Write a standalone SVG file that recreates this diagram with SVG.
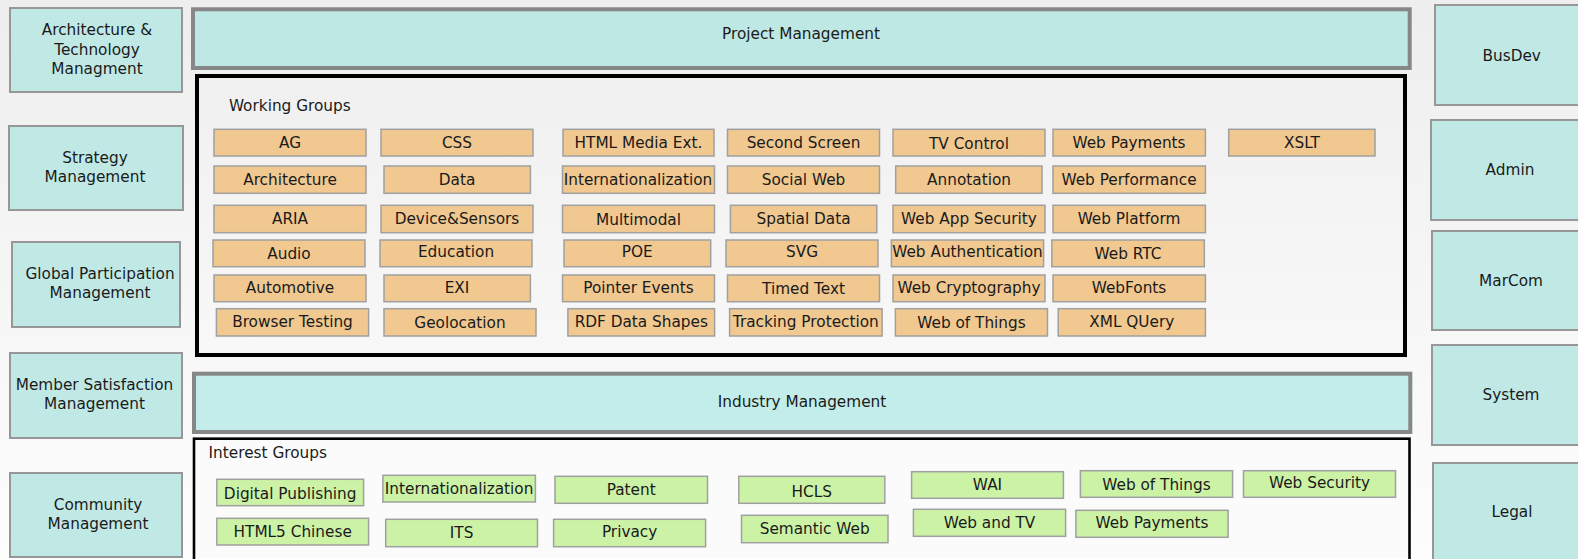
<svg xmlns="http://www.w3.org/2000/svg" width="1578" height="559" viewBox="0 0 1578 559">
<defs>
<linearGradient id="bg" x1="0" y1="0" x2="0" y2="1">
<stop offset="0" stop-color="#eeeeee"/>
<stop offset="1" stop-color="#fdfdfd"/>
</linearGradient>
<linearGradient id="wgbg" x1="0" y1="0" x2="0" y2="1">
<stop offset="0" stop-color="#f0f0f0"/>
<stop offset="1" stop-color="#f8f8f8"/>
</linearGradient>
<style>
text{font-family:"DejaVu Sans","Liberation Sans",sans-serif;font-size:15.3px;fill:#1a1a1a;text-anchor:middle}
.side{fill:#c0e9e6;stroke:#979797;stroke-width:2}
.bar{fill:#bee8e4;stroke:#878787;stroke-width:4}
.bar2{fill:#c2edea;stroke:#878787;stroke-width:4}
.wg{fill:#f0c890;stroke:#a0a0a0;stroke-width:1.5}
.ig{fill:#ccf2a6;stroke:#a0a0a0;stroke-width:1.5}
.lbl{text-anchor:start}
</style>
</defs>
<rect x="0" y="0" width="1578" height="559" fill="url(#bg)"/>

<g id="left-column">
<g id="arch"><rect class="side" x="10" y="8" width="172" height="84"/><text x="97" y="35">Architecture &amp;</text><text x="97" y="54.5">Technology</text><text x="97" y="73.5">Managment</text></g>
<g id="strategy"><rect class="side" x="9" y="126" width="174" height="84"/><text x="95" y="163">Strategy</text><text x="95" y="182">Management</text></g>
<g id="global"><rect class="side" x="12" y="242" width="168" height="85"/><text x="100" y="278.5">Global Participation</text><text x="100" y="298">Management</text></g>
<g id="member"><rect class="side" x="10" y="353" width="172" height="85"/><text x="94.5" y="389.5">Member Satisfaction</text><text x="94.5" y="409">Management</text></g>
<g id="community"><rect class="side" x="10" y="473" width="172" height="84"/><text x="98" y="509.5">Community</text><text x="98" y="529">Management</text></g>
</g>

<g id="right-column">
<g id="busdev"><rect class="side" x="1435" y="5" width="160" height="100"/><text x="1511.7" y="60.5">BusDev</text></g>
<g id="admin"><rect class="side" x="1431" y="120" width="164" height="100"/><text x="1510" y="175">Admin</text></g>
<g id="marcom"><rect class="side" x="1432" y="231" width="163" height="99"/><text x="1511" y="286">MarCom</text></g>
<g id="system"><rect class="side" x="1432" y="345" width="163" height="100"/><text x="1511" y="399.5">System</text></g>
<g id="legal"><rect class="side" x="1433" y="463" width="162" height="100"/><text x="1512" y="517">Legal</text></g>
</g>

<g id="project-management"><rect class="bar" x="193" y="9.3" width="1216.7" height="58.7"/><text x="801" y="38.5">Project Management</text></g>

<g id="working-groups">
<rect x="197" y="76" width="1208" height="279" fill="url(#wgbg)" stroke="#000" stroke-width="4"/>
<text class="lbl" x="228.9" y="110.5">Working Groups</text>
<g id="wg-r1">
<rect class="wg" x="214" y="129.3" width="152" height="26.7"/><text x="290" y="148">AG</text>
<rect class="wg" x="381" y="129.3" width="152" height="26.7"/><text x="457" y="148">CSS</text>
<rect class="wg" x="563" y="129.3" width="151" height="26.7"/><text x="638.5" y="148">HTML Media Ext.</text>
<rect class="wg" x="727.5" y="129.3" width="152" height="26.7"/><text x="803.5" y="148">Second Screen</text>
<rect class="wg" x="893" y="129.3" width="152" height="26.7"/><text x="969" y="149">TV Control</text>
<rect class="wg" x="1053" y="129.3" width="152.4" height="26.7"/><text x="1129" y="148">Web Payments</text>
<rect class="wg" x="1228.7" y="129.3" width="146.3" height="26.7"/><text x="1302" y="148">XSLT</text>
</g>
<g id="wg-r2">
<rect class="wg" x="214" y="166" width="152" height="27.3"/><text x="290" y="184.5">Architecture</text>
<rect class="wg" x="384" y="166" width="146.4" height="27.3"/><text x="457" y="184.5">Data</text>
<rect class="wg" x="562.5" y="166" width="152" height="27.3"/><text x="638" y="184.5">Internationalization</text>
<rect class="wg" x="727.5" y="166" width="152" height="27.3"/><text x="803.5" y="184.5">Social Web</text>
<rect class="wg" x="895.7" y="166" width="146.3" height="27.3"/><text x="969" y="184.5">Annotation</text>
<rect class="wg" x="1053" y="166" width="152.4" height="27.3"/><text x="1129" y="184.5">Web Performance</text>
</g>
<g id="wg-r3">
<rect class="wg" x="214" y="205.3" width="152" height="27.4"/><text x="290" y="224">ARIA</text>
<rect class="wg" x="381" y="205.3" width="152" height="27.4"/><text x="457" y="224">Device&amp;Sensors</text>
<rect class="wg" x="562.5" y="205.3" width="152" height="27.4"/><text x="638.5" y="225">Multimodal</text>
<rect class="wg" x="730.4" y="205.3" width="146.4" height="27.4"/><text x="803.5" y="224">Spatial Data</text>
<rect class="wg" x="893" y="205.3" width="152" height="27.4"/><text x="969" y="224">Web App Security</text>
<rect class="wg" x="1053" y="205.3" width="152.4" height="27.4"/><text x="1129" y="224">Web Platform</text>
</g>
<g id="wg-r4">
<rect class="wg" x="213" y="240" width="152" height="26.7"/><text x="289" y="258.5">Audio</text>
<rect class="wg" x="380" y="240" width="152" height="26.7"/><text x="456" y="257.2">Education</text>
<rect class="wg" x="564" y="240" width="146.7" height="26.7"/><text x="637.3" y="257.2">POE</text>
<rect class="wg" x="726" y="240" width="152" height="26.7"/><text x="802" y="257.2">SVG</text>
<rect class="wg" x="891.4" y="240" width="152.2" height="26.7"/><text x="967.5" y="257.2">Web Authentication</text>
<rect class="wg" x="1051.8" y="240" width="152.5" height="26.7"/><text x="1128" y="258.5">Web RTC</text>
</g>
<g id="wg-r5">
<rect class="wg" x="214" y="275" width="152" height="26.7"/><text x="290" y="292.9">Automotive</text>
<rect class="wg" x="384" y="275" width="146.4" height="26.7"/><text x="457" y="292.9">EXI</text>
<rect class="wg" x="562.5" y="275" width="152" height="26.7"/><text x="638.5" y="292.9">Pointer Events</text>
<rect class="wg" x="727.5" y="275" width="152" height="26.7"/><text x="803.5" y="294">Timed Text</text>
<rect class="wg" x="893" y="275" width="152" height="26.7"/><text x="969" y="292.9">Web Cryptography</text>
<rect class="wg" x="1053" y="275" width="152.4" height="26.7"/><text x="1129" y="292.9">WebFonts</text>
</g>
<g id="wg-r6">
<rect class="wg" x="216.4" y="308.7" width="152.2" height="27.3"/><text x="292.5" y="326.5">Browser Testing</text>
<rect class="wg" x="384" y="308.7" width="152" height="27.3"/><text x="460" y="327.9">Geolocation</text>
<rect class="wg" x="567.9" y="308.7" width="146.7" height="27.3"/><text x="641.3" y="326.5">RDF Data Shapes</text>
<rect class="wg" x="729.6" y="308.7" width="152.5" height="27.3"/><text x="805.8" y="326.5">Tracking Protection</text>
<rect class="wg" x="895.4" y="308.7" width="152.1" height="27.3"/><text x="971.5" y="327.9">Web of Things</text>
<rect class="wg" x="1058.2" y="308.7" width="147.2" height="27.3"/><text x="1131.8" y="326.5">XML QUery</text>
</g>
</g>

<g id="industry-management"><rect class="bar2" x="194" y="373.7" width="1216.3" height="58.3"/><text x="802" y="407">Industry Management</text></g>

<g id="interest-groups">
<rect x="194" y="438.7" width="1215.5" height="140" fill="#fbfbfb" stroke="#000" stroke-width="2.6"/>
<text class="lbl" x="208.6" y="458">Interest Groups</text>
<rect class="ig" x="216.8" y="479.3" width="146.8" height="26.4"/><text x="290.2" y="498.9">Digital Publishing</text>
<rect class="ig" x="382.9" y="475.3" width="152.5" height="26.7"/><text x="459.1" y="493.9">Internationalization</text>
<rect class="ig" x="555" y="476.3" width="152.5" height="27"/><text x="631.2" y="494.5">Patent</text>
<rect class="ig" x="738.8" y="476.3" width="146" height="27"/><text x="811.8" y="497">HCLS</text>
<rect class="ig" x="911.6" y="471.7" width="151.8" height="26.6"/><text x="987.5" y="490">WAI</text>
<rect class="ig" x="1080.4" y="470.7" width="152.2" height="26.6"/><text x="1156.5" y="489.5">Web of Things</text>
<rect class="ig" x="1243.5" y="470.7" width="152" height="26.6"/><text x="1319.5" y="487.9">Web Security</text>
<rect class="ig" x="216.8" y="518.3" width="151.8" height="26.7"/><text x="292.7" y="536.5">HTML5 Chinese</text>
<rect class="ig" x="385.7" y="519.3" width="151.8" height="27.4"/><text x="461.6" y="537.5">ITS</text>
<rect class="ig" x="553.6" y="519.3" width="152" height="27.4"/><text x="629.6" y="537">Privacy</text>
<rect class="ig" x="741.5" y="515.3" width="146.5" height="27.4"/><text x="814.7" y="534">Semantic Web</text>
<rect class="ig" x="913.4" y="509.3" width="152.2" height="27"/><text x="989.5" y="527.5">Web and TV</text>
<rect class="ig" x="1075.9" y="510.3" width="152.2" height="27"/><text x="1152" y="528">Web Payments</text>
</g>

<g id="connectors"></g>
</svg>
